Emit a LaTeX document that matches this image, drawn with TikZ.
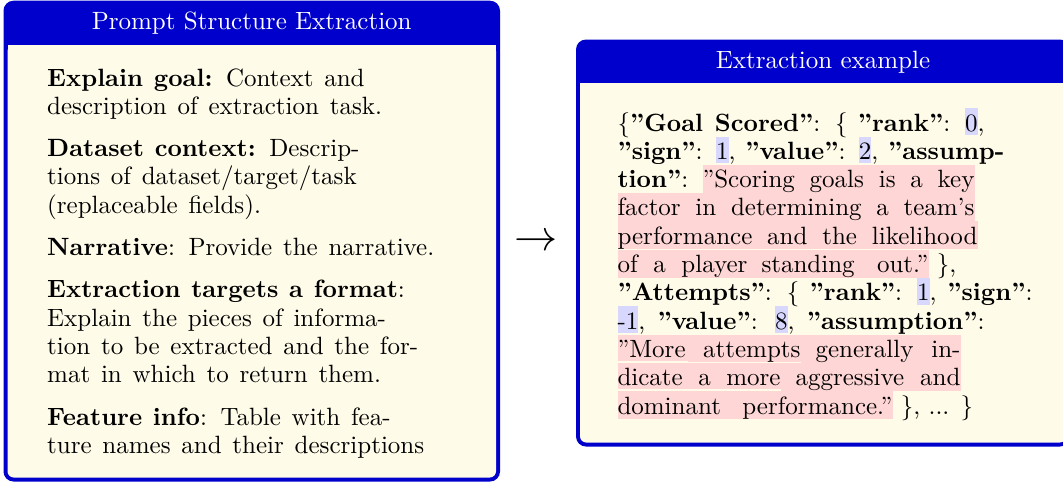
\documentclass[tikz,border=0pt]{standalone}
\usepackage{xcolor}

% one unit of the picture is one pixel of the layout
\newdimen\pxu
\pxu=0.4pt
\newcommand{\hlstrut}{\rule[-1.5pt]{0pt}{10.6pt}}
\newcommand{\hlp}[2]{{\setlength{\fboxsep}{0pt}\colorbox{hlpink}{\hlstrut\makebox[#1\pxu][s]{#2}}}}
\newcommand{\hln}[1]{{\setlength{\fboxsep}{0pt}\colorbox{hlblue}{\hlstrut#1}}}

\tikzset{
    textline/.style={anchor=base west, inner sep=0pt},
    promptline/.style={textline, font={\spaceskip=4.3pt\relax}},
    titletext/.style={anchor=base, inner sep=0pt, text=white}
}

\begin{document}
\begin{tikzpicture}[x=0.4pt, y=-0.4pt]
    % Define colors
    \definecolor{framecolor}{RGB}{0, 0, 204}
    \definecolor{backcolor}{RGB}{254, 251, 232}
    \definecolor{hlpink}{RGB}{255, 214, 214}
    \definecolor{hlblue}{RGB}{216, 216, 255}

    % Fix the size of the picture
    \useasboundingbox (0, 0) rectangle (1063, 483);

    % Define the box corners
    \coordinate (leftNW) at (3.5, 0.7);
    \coordinate (leftSE) at (500, 481.5);
    \coordinate (rightNW) at (576, 39.5);
    \coordinate (rightSE) at (1070, 446.5);

    % Draw the left box (frame, title bar and body)
    \fill[framecolor, rounded corners=4pt] (leftNW) rectangle (leftSE);
    \fill[backcolor, rounded corners=2.5pt] (7.5, 45) rectangle (496, 477.5);
    \fill[backcolor] (7.5, 45) rectangle (496, 60);

    % Draw the right box (frame, title bar and body)
    \fill[framecolor, rounded corners=4pt] (rightNW) rectangle (rightSE);
    \fill[backcolor, rounded corners=2.5pt] (580, 83) rectangle (1066, 442.5);
    \fill[backcolor] (580, 83) rectangle (1066, 98);

    % Add the titles
    \node[titletext] (lefttitle) at (251.7, 29.3) {Prompt Structure Extraction};
    \node[titletext] (righttitle) at (823, 68.3) {Extraction example};

    % Add the prompt parts in the left box
    \node[promptline] (goalA) at (46.7, 86) {\textbf{Explain goal:} Context and};
    \node[promptline] (goalB) at (46.7, 114.3) {description of extraction task.};
    \node[promptline] (dataA) at (46.7, 156.6) {\textbf{Dataset context:} Descrip-};
    \node[promptline] (dataB) at (46.7, 184.9) {tions of dataset/target/task};
    \node[promptline] (dataC) at (46.7, 213.2) {(replaceable fields).};
    \node[promptline] (narr) at (46.7, 255.5) {\textbf{Narrative}: Provide the narrative.};
    \node[promptline] (targA) at (46.7, 297.8) {\textbf{Extraction targets a format}:};
    \node[promptline] (targB) at (46.7, 326.1) {Explain the pieces of informa-};
    \node[promptline] (targC) at (46.7, 354.4) {tion to be extracted and the for-};
    \node[promptline] (targD) at (46.7, 382.7) {mat in which to return them.};
    \node[promptline] (featA) at (46.7, 425) {\textbf{Feature info}: Table with fea-};
    \node[promptline] (featB) at (46.7, 453.3) {ture names and their descriptions};

    % Add the arrow between the boxes
    \node (arrow) at (536, 242.7) {\LARGE$\rightarrow$};

    % Add the extraction example in the right box
    \node[textline] (exA) at (617, 131) {\makebox[367\pxu][s]{\{\textbf{''Goal Scored''}: \{ \textbf{''rank''}: \hln{0},}};
    \node[textline] (exB) at (617, 159.3) {\makebox[387\pxu][s]{\textbf{''sign''}: \hln{1}, \textbf{''value''}: \hln{2}, \textbf{''assump-}}};
    \node[textline] (exC) at (617, 187.6) {\makebox[85\pxu][l]{\textbf{tion''}:}\hlp{272}{''Scoring goals is a key}};
    \node[textline] (exD) at (617, 215.9) {\hlp{357}{factor in determining a team's}};
    \node[textline] (exE) at (617, 244.2) {\hlp{360}{performance and the likelihood}};
    \node[textline] (exF) at (617, 272.5) {\hlp{130}{of a player}\hlp{181}{\hspace*{14\pxu}standing out.''} \},};
    \node[textline] (exG) at (617, 300.8) {\makebox[415\pxu][s]{\textbf{''Attempts''}: \{ \textbf{''rank''}: \hln{1}, \textbf{''sign''}:}};
    \node[textline] (exH) at (617, 329.1) {\makebox[367\pxu][s]{\hln{-1}, \textbf{''value''}: \hln{8}, \textbf{''assumption''}:}};
    \node[textline] (exI) at (617, 357.4) {\hlp{70}{''More}\hlp{113}{\hfill attempts}\hlp{160}{\hspace*{15\pxu}generally in-}};
    \node[textline] (exJ) at (617, 385.7) {\hlp{163}{dicate a more}\hlp{180}{\hspace*{15\pxu}aggressive and}};
    \node[textline] (exK) at (617, 414) {\hlp{275}{dominant performance.''} \}, ... \}};

\end{tikzpicture}
\end{document}
